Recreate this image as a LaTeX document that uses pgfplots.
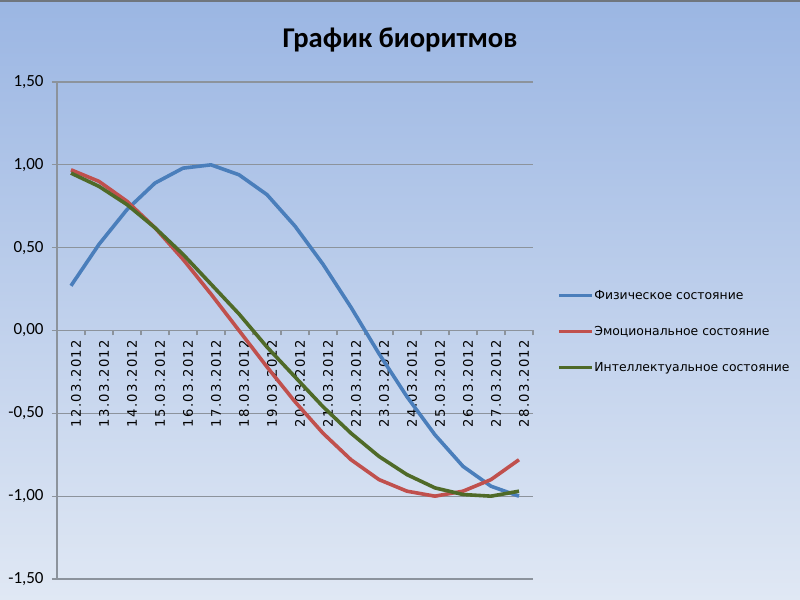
\documentclass[border=0pt]{standalone}
\usepackage{fontspec}
\usepackage{pgfplots}
\usepackage{pgfplotstable}
\pgfplotsset{compat=1.18}
\newfontfamily\carlito{Carlito}
\newfontfamily\dejavu{DejaVu Sans}
\newfontfamily\dejavuls[LetterSpace=10]{DejaVu Sans}
\definecolor{bgtop}{HTML}{9BB6E3}
\definecolor{bgbot}{HTML}{E0E8F4}
\definecolor{gridgray}{HTML}{8C939C}
\definecolor{sblue}{HTML}{4A7EBB}
\definecolor{sred}{HTML}{C0504D}
\definecolor{sgreen}{HTML}{4F6A28}

\pgfplotstableread{
idx phys emo intel
0 0.27 0.97 0.95
1 0.52 0.90 0.87
2 0.73 0.78 0.76
3 0.89 0.62 0.62
4 0.98 0.43 0.46
5 1.00 0.22 0.28
6 0.94 0.00 0.10
7 0.82 -0.22 -0.10
8 0.63 -0.43 -0.28
9 0.40 -0.62 -0.46
10 0.14 -0.78 -0.62
11 -0.14 -0.90 -0.76
12 -0.40 -0.97 -0.87
13 -0.63 -1.00 -0.95
14 -0.82 -0.97 -0.99
15 -0.94 -0.90 -1.00
16 -1.00 -0.78 -0.97
}\biodata

\begin{document}
\begin{tikzpicture}
\shade[top color=bgtop, bottom color=bgbot] (0,0) rectangle (400pt,300pt);
\useasboundingbox (0,0) rectangle (400pt,300pt);
\draw[gridgray!80!black, line width=1pt] (0,299.5pt) -- (400pt,299.5pt);
\node[font=\carlito\bfseries\fontsize{14.3}{17}\selectfont, anchor=base, inner sep=0pt] at (200pt,276pt) {График биоритмов};
\begin{axis}[
  at={(28.5pt,10.5pt)}, anchor=south west,
  scale only axis, width=238pt, height=248.5pt,
  xmin=-0.5, xmax=16.5, ymin=-1.5, ymax=1.5,
  axis x line=middle, axis y line=left,
  hide obscured x ticks=false,
  axis line style={-, draw=gridgray, line width=0.6pt},
  ytick={-1.5,-1,-0.5,0,0.5,1,1.5},
  ymajorgrids, grid style={draw=gridgray, line width=0.6pt},
  tick style={draw=gridgray, line width=0.6pt},
  major tick length=2.5pt,
  xtick align=outside, ytick align=outside,
  xtick={-0.5,0.5,1.5,2.5,3.5,4.5,5.5,6.5,7.5,8.5,9.5,10.5,11.5,12.5,13.5,14.5,15.5,16.5},
  x tick label as interval,
  xticklabels={12.03.2012,13.03.2012,14.03.2012,15.03.2012,16.03.2012,17.03.2012,18.03.2012,19.03.2012,20.03.2012,21.03.2012,22.03.2012,23.03.2012,24.03.2012,25.03.2012,26.03.2012,27.03.2012,28.03.2012},
  xticklabel style={rotate=90, anchor=east, font=\dejavuls\fontsize{6.6}{8}\selectfont, inner sep=2pt, yshift=-2.5pt},
  yticklabel style={font=\carlito\fontsize{8.5}{10}\selectfont, inner sep=1pt, xshift=-3pt,
    /pgf/number format/.cd, fixed, fixed zerofill, precision=2, use comma, assume math mode=true},
  legend style={at={(1.0504,0.5855)}, anchor=north west, draw=none, fill=none, inner sep=0pt,
    row sep=10.5pt, font=\dejavu\fontsize{6.2}{8}\selectfont,
    nodes={inner sep=0.5pt, text height=5pt, text depth=1.5pt}, cells={anchor=west}},
  legend image code/.code={\draw[#1, line width=1.5pt] (0pt,0pt) -- (16.5pt,0pt);},
  line join=round,
]
\addplot[sblue, line width=1.8pt] table[x=idx, y=phys] {\biodata};
\addlegendentry{Физическое состояние}
\addplot[sred, line width=1.8pt] table[x=idx, y=emo] {\biodata};
\addlegendentry{Эмоциональное состояние}
\addplot[sgreen, line width=1.8pt] table[x=idx, y=intel] {\biodata};
\addlegendentry{Интеллектуальное состояние}
\end{axis}
\end{tikzpicture}
\end{document}
